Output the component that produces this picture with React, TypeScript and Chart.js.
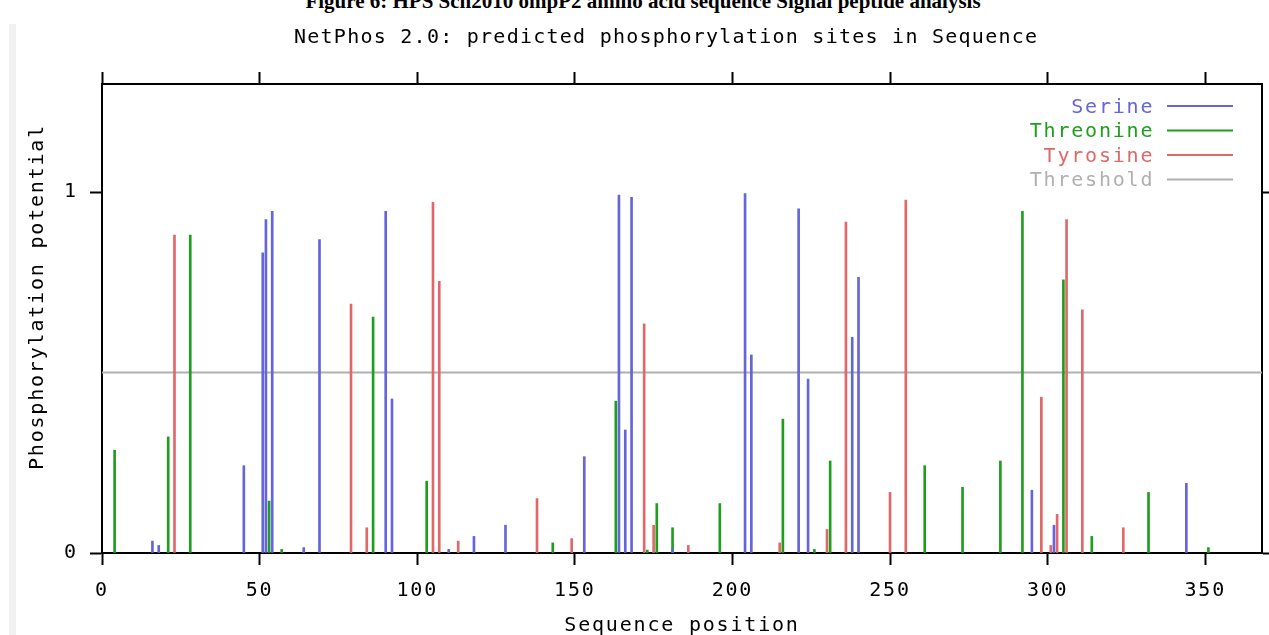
import React, { useEffect, useRef } from 'react';
import { Chart, registerables } from 'chart.js';

Chart.register(...registerables);

// ---------- text ----------
const CAPTION = 'Figure 6: HPS Sch2010 ompP2 amino acid sequence Signal peptide analysis';
const TITLE = 'NetPhos 2.0: predicted phosphorylation sites in Sequence';
const X_TITLE = 'Sequence position';
const Y_TITLE = 'Phosphorylation potential';

// ---------- axes ----------
const xTicks = [0, 50, 100, 150, 200, 250, 300, 350];
const yTicks = [0, 1];
const X_MAX = 368;
const Y_MAX = 1.3;

// ---------- series ----------
const seriesNames = ['Serine', 'Threonine', 'Tyrosine', 'Threshold'];

const serinePos = [16, 18, 45, 51, 52, 54, 64, 69, 90, 92, 110, 118, 128, 153, 164, 166, 168, 181, 204, 206, 221, 224, 238, 240, 295, 302, 344];
const serineVal = [0.033, 0.021, 0.242, 0.832, 0.924, 0.947, 0.015, 0.869, 0.947, 0.427, 0.01, 0.046, 0.077, 0.267, 0.992, 0.341, 0.986, 0.012, 0.996, 0.549, 0.954, 0.482, 0.598, 0.764, 0.174, 0.077, 0.193];

const threoninePos = [4, 21, 28, 53, 57, 86, 103, 143, 163, 173, 176, 181, 196, 216, 226, 231, 261, 273, 285, 292, 305, 314, 332, 351];
const threonineVal = [0.285, 0.322, 0.881, 0.144, 0.01, 0.654, 0.199, 0.028, 0.421, 0.008, 0.137, 0.07, 0.137, 0.371, 0.01, 0.255, 0.242, 0.182, 0.255, 0.947, 0.757, 0.046, 0.168, 0.015];

const tyrosinePos = [23, 79, 84, 105, 107, 113, 138, 149, 172, 175, 186, 215, 230, 236, 250, 255, 298, 301, 303, 306, 311, 324];
const tyrosineVal = [0.881, 0.69, 0.07, 0.972, 0.753, 0.033, 0.151, 0.04, 0.635, 0.077, 0.021, 0.028, 0.065, 0.917, 0.168, 0.978, 0.432, 0.021, 0.107, 0.924, 0.674, 0.07];

const thresholdX = [0, 368];
const thresholdValue = 0.5;

// ---------- styles ----------
const COLORS = ['#6464dc', '#1e9e1e', '#e06868', '#b0b0b0'];
const MONO = '"DejaVu Sans Mono", "Liberation Mono", monospace';
const FONT_SIZE = 20;
const SPACING = '1.8px';
const TITLE_SPACING = '1.25px';

const toPoints = (xs: number[], ys: number[]) => xs.map((x, i) => ({ x, y: ys[i] }));

const spacingPlugin = {
  id: 'letterSpacing',
  beforeDraw(chart: any) {
    (chart.ctx as any).letterSpacing = SPACING;
  },
};

const decorPlugin = {
  id: 'decor',
  afterDraw(chart: any) {
    const ctx = chart.ctx as CanvasRenderingContext2D & { letterSpacing?: string };
    const area = chart.chartArea;
    ctx.save();
    ctx.font = `${FONT_SIZE}px ${MONO}`;

    // main title
    ctx.letterSpacing = TITLE_SPACING;
    ctx.fillStyle = '#000';
    ctx.textAlign = 'left';
    ctx.textBaseline = 'middle';
    ctx.fillText(TITLE, 294, 37.5);

    // y axis title
    ctx.letterSpacing = SPACING;
    ctx.save();
    ctx.translate(38, 297);
    ctx.rotate(-Math.PI / 2);
    ctx.textAlign = 'center';
    ctx.textBaseline = 'middle';
    ctx.fillText(Y_TITLE, 0, 0);
    ctx.restore();

    // legend (inside plot, top right)
    const lineRight = area.right - 29;
    const lineLeft = lineRight - 66;
    const textRight = lineLeft - 12.7;
    chart.data.datasets.forEach((ds: any, i: number) => {
      const y = area.top + 22 + i * 24.5;
      const color = ds.borderColor || ds.backgroundColor;
      ctx.strokeStyle = color;
      ctx.lineWidth = 2;
      ctx.beginPath();
      ctx.moveTo(lineLeft, y);
      ctx.lineTo(lineRight, y);
      ctx.stroke();
      ctx.fillStyle = color;
      ctx.textAlign = 'right';
      ctx.textBaseline = 'middle';
      ctx.fillText(ds.label, textRight, y + 1.5);
    });
    ctx.restore();
  },
};

const frameGrid = (tickLength: number) => ({
  display: true,
  drawOnChartArea: false,
  drawTicks: true,
  offset: false,
  tickLength,
  tickColor: '#000',
  tickWidth: 2,
});
const frameBorder = { display: true, color: '#000', width: 2 };

export default function App() {
  const ref = useRef<HTMLCanvasElement>(null);

  useEffect(() => {
    const canvas = ref.current;
    if (!canvas) return;
    const barCommon = { type: 'bar' as const, barThickness: 2, grouped: false, borderWidth: 0, order: 1 };
    const chart = new Chart(canvas, {
      type: 'bar',
      data: {
        datasets: [
          { ...barCommon, label: seriesNames[0], data: toPoints(serinePos, serineVal), backgroundColor: COLORS[0], borderColor: COLORS[0] },
          { ...barCommon, label: seriesNames[1], data: toPoints(threoninePos, threonineVal), backgroundColor: COLORS[1], borderColor: COLORS[1] },
          { ...barCommon, label: seriesNames[2], data: toPoints(tyrosinePos, tyrosineVal), backgroundColor: COLORS[2], borderColor: COLORS[2] },
          {
            type: 'line' as const,
            label: seriesNames[3],
            data: thresholdX.map((x) => ({ x, y: thresholdValue })),
            borderColor: COLORS[3],
            backgroundColor: COLORS[3],
            borderWidth: 2,
            pointRadius: 0,
            fill: false,
            order: 10,
          } as any,
        ],
      },
      options: {
        responsive: false,
        animation: false,
        devicePixelRatio: 1,
        layout: { padding: 0 },
        plugins: {
          legend: { display: false },
          tooltip: { enabled: false },
          title: { display: false },
        },
        scales: {
          x: {
            type: 'linear',
            position: 'bottom',
            min: 0,
            max: X_MAX,
            offset: false,
            afterBuildTicks: (s: any) => { s.ticks = xTicks.map((v) => ({ value: v })); },
            afterFit: (s: any) => { s.height = 82; },
            ticks: {
              color: '#000',
              font: { family: MONO, size: FONT_SIZE },
              padding: 14,
              maxRotation: 0,
              autoSkip: false,
              callback: (v: any) => String(v),
            },
            grid: frameGrid(12),
            border: frameBorder,
            title: {
              display: true,
              text: X_TITLE,
              color: '#000',
              font: { family: MONO, size: FONT_SIZE },
              padding: { top: 0, bottom: -3 },
            },
          },
          x2: {
            type: 'linear',
            position: 'top',
            min: 0,
            max: X_MAX,
            offset: false,
            afterBuildTicks: (s: any) => { s.ticks = xTicks.map((v) => ({ value: v })); },
            afterFit: (s: any) => { s.height = 84; },
            ticks: { display: false },
            grid: frameGrid(12),
            border: frameBorder,
          },
          y: {
            type: 'linear',
            position: 'left',
            min: 0,
            max: Y_MAX,
            afterBuildTicks: (s: any) => { s.ticks = yTicks.map((v) => ({ value: v })); },
            afterFit: (s: any) => { s.width = 102; },
            ticks: {
              color: '#000',
              font: { family: MONO, size: FONT_SIZE },
              padding: 12.2,
              callback: (v: any) => String(v),
            },
            grid: frameGrid(12),
            border: frameBorder,
          },
          y2: {
            type: 'linear',
            position: 'right',
            min: 0,
            max: Y_MAX,
            afterBuildTicks: (s: any) => { s.ticks = yTicks.map((v) => ({ value: v })); },
            afterFit: (s: any) => { s.width = 7; },
            ticks: { display: false },
            grid: frameGrid(12),
            border: frameBorder,
          },
        },
      } as any,
      plugins: [spacingPlugin, decorPlugin],
    });
    return () => chart.destroy();
  }, []);

  return (
    <div style={{ position: 'absolute', left: 0, top: 0, width: 1269, height: 635, background: '#fff', overflow: 'hidden' }}>
      <div style={{ position: 'absolute', left: 9, top: 24, width: 7, height: 611, background: '#f1f1f1' }} />
      <div
        style={{
          position: 'absolute',
          left: 0,
          top: -9,
          width: 1286,
          textAlign: 'center',
          fontFamily: '"Liberation Serif", "Times New Roman", serif',
          fontWeight: 'bold',
          fontSize: 21,
          lineHeight: '21px',
          color: '#000',
          whiteSpace: 'nowrap',
        }}
      >
        {CAPTION}
      </div>
      <canvas
        ref={ref}
        width={1269}
        height={635}
        style={{ position: 'absolute', left: 0, top: 0, width: 1269, height: 635 }}
      />
    </div>
  );
}
